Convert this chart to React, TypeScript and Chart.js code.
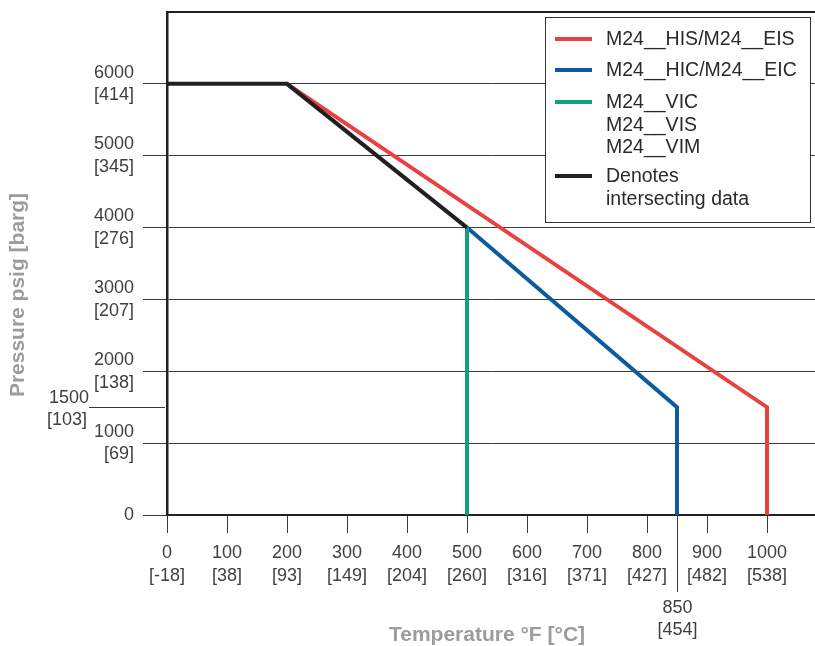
import React, { useEffect, useRef } from "react";
import { Chart, registerables } from "chart.js";

Chart.register(...registerables);

// ---- data ----
const xTickValues = [0, 100, 200, 300, 400, 500, 600, 700, 800, 900, 1000];
const xTickCelsius = ["[-18]", "[38]", "[93]", "[149]", "[204]", "[260]", "[316]", "[371]", "[427]", "[482]", "[538]"];
const yTickValues = [0, 1000, 2000, 3000, 4000, 5000, 6000];
const yTickBarg = ["", "[69]", "[138]", "[207]", "[276]", "[345]", "[414]"];
const extraXTick = { value: 850, label: ["850", "[454]"] };
const extraYTick = { value: 1500, label: ["1500", "[103]"] };

const hisTemp = [200, 1000, 1000];
const hisPress = [6000, 1500, 0];
const hicTemp = [500, 850, 850];
const hicPress = [4000, 1500, 0];
const vicTemp = [500, 500];
const vicPress = [4000, 0];
const sharedTemp = [0, 200, 500];
const sharedPress = [6000, 6000, 4000];

const legendItems = [
  { color: "#e8413f", lines: ["M24__HIS/M24__EIS"] },
  { color: "#0d5b9e", lines: ["M24__HIC/M24__EIC"] },
  { color: "#11a07e", lines: ["M24__VIC", "M24__VIS", "M24__VIM"] },
  { color: "#231f20", lines: ["Denotes", "intersecting data"] },
];

const xTitle = "Temperature °F [°C]";
const yTitle = "Pressure psig [barg]";

const FONT = "'Liberation Sans', Arial, sans-serif";
const TICK_COLOR = "#3f3f3f";
const GRID_COLOR = "#3a3a3a";
const TITLE_COLOR = "#9c9c9c";

const toPts = (xs: number[], ys: number[]) => xs.map((x, i) => ({ x, y: ys[i] }));

const decorPlugin = {
  id: "decor",
  afterDraw(chart: any) {
    const ctx = chart.ctx;
    const xs = chart.scales.x;
    const ys = chart.scales.y;
    const area = chart.chartArea;
    ctx.save();
    // top border
    ctx.strokeStyle = "#222";
    ctx.lineWidth = 2;
    ctx.beginPath();
    ctx.moveTo(area.left, area.top);
    ctx.lineTo(area.right, area.top);
    ctx.stroke();

    // extra y tick (1500)
    const y15 = Math.round(ys.getPixelForValue(extraYTick.value)) + 0.5;
    ctx.strokeStyle = GRID_COLOR;
    ctx.lineWidth = 1;
    ctx.beginPath();
    ctx.moveTo(89, y15);
    ctx.lineTo(area.left - 2, y15);
    ctx.stroke();
    ctx.fillStyle = TICK_COLOR;
    ctx.font = `18px ${FONT}`;
    ctx.textAlign = "right";
    ctx.textBaseline = "middle";
    ctx.fillText(extraYTick.label[0], 89, y15 - 9);
    ctx.fillText(extraYTick.label[1], 87, y15 + 13);

    // extra x tick (850)
    const x85 = Math.round(xs.getPixelForValue(extraXTick.value)) + 0.5;
    ctx.beginPath();
    ctx.moveTo(x85, area.bottom);
    ctx.lineTo(x85, 592);
    ctx.stroke();
    ctx.textAlign = "center";
    ctx.fillText(extraXTick.label[0], x85, 608);
    ctx.fillText(extraXTick.label[1], x85, 630);

    // axis titles
    ctx.fillStyle = TITLE_COLOR;
    ctx.font = `bold 21px ${FONT}`;
    ctx.textAlign = "center";
    ctx.textBaseline = "middle";
    ctx.fillText(xTitle, 487, 635);
    ctx.save();
    ctx.translate(18, 295);
    ctx.rotate(-Math.PI / 2);
    ctx.fillText(yTitle, 0, 0);
    ctx.restore();

    // legend
    const bx = 545.5, by = 17.5, bw = 265, bh = 205;
    ctx.fillStyle = "#fff";
    ctx.fillRect(bx, by, bw, bh);
    ctx.strokeStyle = "#333";
    ctx.lineWidth = 1;
    ctx.strokeRect(bx, by, bw, bh);
    const rowStarts = [40, 71, 103, 177];
    const lineGap = 22.5;
    ctx.font = `19.5px ${FONT}`;
    ctx.textAlign = "left";
    ctx.textBaseline = "middle";
    legendItems.forEach((it, i) => {
      const ry = rowStarts[i];
      ctx.strokeStyle = it.color;
      ctx.lineWidth = 4;
      ctx.beginPath();
      ctx.moveTo(555, ry - 1);
      ctx.lineTo(592, ry - 1);
      ctx.stroke();
      ctx.fillStyle = "#2a2a2a";
      it.lines.forEach((t, j) => ctx.fillText(t, 606, ry + j * lineGap));
    });
    ctx.restore();
  },
};

export default function App() {
  const ref = useRef<HTMLCanvasElement | null>(null);
  useEffect(() => {
    if (!ref.current) return;
    const lineDs = (label: string, data: any, color: string) => ({
      label,
      data,
      borderColor: color,
      backgroundColor: color,
      borderWidth: 4,
      pointRadius: 0,
      showLine: true,
      fill: false,
      borderJoinStyle: "miter" as const,
      tension: 0,
    });
    const chart = new Chart(ref.current, {
      type: "scatter",
      data: {
        datasets: [
          lineDs("Denotes intersecting data", toPts(sharedTemp, sharedPress), legendItems[3].color),
          lineDs("M24__VIC/VIS/VIM", toPts(vicTemp, vicPress), legendItems[2].color),
          lineDs("M24__HIC/M24__EIC", toPts(hicTemp, hicPress), legendItems[1].color),
          lineDs("M24__HIS/M24__EIS", toPts(hisTemp, hisPress), legendItems[0].color),
        ],
      },
      options: {
        animation: false,
        responsive: false,
        devicePixelRatio: 1,
        layout: { padding: { top: 12, right: 0, left: 0, bottom: 0 } },
        plugins: { legend: { display: false }, tooltip: { enabled: false } },
        scales: {
          x: {
            type: "linear",
            min: 0,
            max: 1080,
            afterFit: (s: any) => { s.height = 131; s.paddingLeft = 0; s.paddingRight = 0; },
            afterBuildTicks: (s: any) => { s.ticks = xTickValues.map((v) => ({ value: v })); },
            border: { color: "#222", width: 2 },
            grid: { drawOnChartArea: false, drawTicks: true, tickLength: 18, color: GRID_COLOR, lineWidth: 1 },
            ticks: {
              padding: 9,
              color: TICK_COLOR,
              font: { family: FONT, size: 18, lineHeight: 1.25 },
              maxRotation: 0,
              autoSkip: false,
              callback: (v: any) => {
                const i = xTickValues.indexOf(Number(v));
                return i < 0 ? "" : [String(v), xTickCelsius[i]];
              },
            },
          },
          y: {
            type: "linear",
            min: 0,
            max: 7000,
            afterFit: (s: any) => { s.width = 167; s.paddingTop = 0; s.paddingBottom = 0; },
            afterBuildTicks: (s: any) => { s.ticks = yTickValues.map((v) => ({ value: v })); },
            border: { color: "#222", width: 2.5 },
            grid: { drawOnChartArea: true, drawTicks: true, tickLength: 24, color: GRID_COLOR, lineWidth: 1 },
            ticks: {
              padding: 9,
              color: TICK_COLOR,
              font: { family: FONT, size: 18, lineHeight: 1.25 },
              autoSkip: false,
              callback: (v: any) => {
                const i = yTickValues.indexOf(Number(v));
                if (i < 0) return "";
                return yTickBarg[i] ? [String(v), yTickBarg[i]] : String(v);
              },
            },
          },
        },
      },
      plugins: [decorPlugin],
    });
    return () => chart.destroy();
  }, []);
  return (
    <div style={{ position: "fixed", left: 0, top: 0, width: 815, height: 646, background: "#fff" }}>
      <canvas ref={ref} width={815} height={646} style={{ display: "block" }} />
    </div>
  );
}
